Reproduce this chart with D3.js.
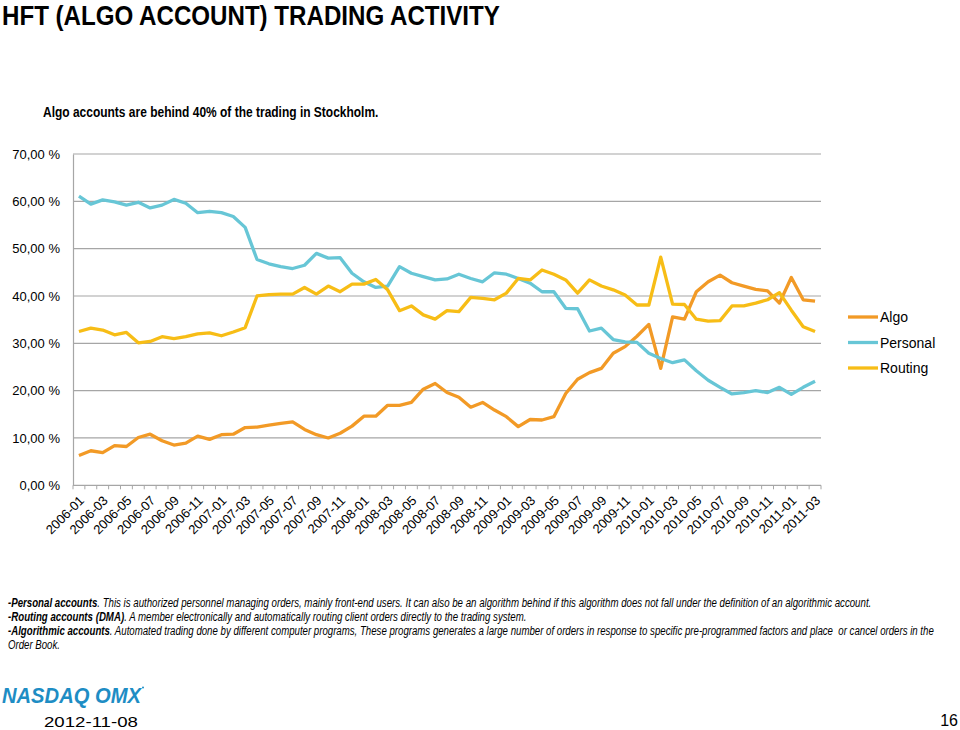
<!DOCTYPE html>
<html>
<head>
<meta charset="utf-8">
<script src="https://cdn.jsdelivr.net/npm/d3@7"></script>
<style>
  html, body { margin: 0; padding: 0; background: #fff; }
  svg { display: block; }
</style>
</head>
<body>
<svg id="chart" width="960" height="730"></svg>
<script>
const months = ["2006-01","2006-02","2006-03","2006-04","2006-05","2006-06","2006-07","2006-08","2006-09","2006-10","2006-11","2006-12",
"2007-01","2007-02","2007-03","2007-04","2007-05","2007-06","2007-07","2007-08","2007-09","2007-10","2007-11","2007-12",
"2008-01","2008-02","2008-03","2008-04","2008-05","2008-06","2008-07","2008-08","2008-09","2008-10","2008-11","2008-12",
"2009-01","2009-02","2009-03","2009-04","2009-05","2009-06","2009-07","2009-08","2009-09","2009-10","2009-11","2009-12",
"2010-01","2010-02","2010-03","2010-04","2010-05","2010-06","2010-07","2010-08","2010-09","2010-10","2010-11","2010-12",
"2011-01","2011-02","2011-03"];

const algo = [6.3,7.3,6.9,8.4,8.2,10.1,10.8,9.4,8.5,8.9,10.4,9.7,10.7,10.8,12.2,12.3,12.7,13.1,13.4,11.8,10.7,10.0,
11.0,12.5,14.6,14.6,16.9,16.9,17.5,20.3,21.5,19.6,18.6,16.5,17.5,15.9,14.5,12.4,13.9,13.8,14.5,19.4,22.4,
23.8,24.7,27.9,29.3,31.5,34.0,24.7,35.6,35.1,40.9,43.0,44.4,42.8,42.1,41.4,41.1,38.5,43.9,39.2,38.9];

const personal = [61.1,59.4,60.3,59.9,59.2,59.8,58.6,59.2,60.4,59.6,57.6,57.9,57.6,56.8,54.5,47.7,46.8,46.2,45.8,46.5,49.0,48.0,
48.1,44.8,43.0,41.8,42.1,46.2,44.8,44.1,43.4,43.6,44.6,43.7,43.0,44.9,44.6,43.7,42.7,40.9,40.9,37.4,37.3,
32.6,33.2,30.8,30.3,30.2,27.9,26.8,25.9,26.5,24.2,22.2,20.7,19.3,19.6,20.0,19.6,20.7,19.2,20.7,22.0];

const routing = [32.5,33.2,32.8,31.8,32.3,30.1,30.4,31.4,31.0,31.4,32.0,32.2,31.6,32.4,33.3,40.0,40.3,40.4,40.4,41.8,40.4,42.1,
40.9,42.5,42.5,43.5,41.3,36.9,37.9,36.0,35.1,36.9,36.7,39.7,39.5,39.2,40.6,43.7,43.4,45.5,44.6,43.4,40.6,
43.4,42.1,41.3,40.2,38.1,38.1,48.2,38.3,38.2,35.1,34.7,34.8,37.9,37.9,38.5,39.2,40.7,37.0,33.5,32.5];

const seriesNames = ["Algo","Personal","Routing"];
const seriesColors = ["#F29A26","#67C6D6","#F7BD16"];
const yTicks = [0,10,20,30,40,50,60,70];
const yTickLabels = ["0,00 %","10,00 %","20,00 %","30,00 %","40,00 %","50,00 %","60,00 %","70,00 %"];

const svg = d3.select("#chart");
const FONT = "'Liberation Sans Narrow','Liberation Sans',Arial,sans-serif";
const FONTW = "'Liberation Sans',Arial,sans-serif";

// helper: fit text to width via horizontal scale
function fitText(sel, x, width) {
  const node = sel.node();
  const w = node.getComputedTextLength();
  const s = width / w;
  const y = +sel.attr("y");
  sel.attr("x", 0).attr("y", 0).attr("transform", `translate(${x},${y}) scale(${s},1)`);
}

// Title
const title = svg.append("text").attr("x", 2).attr("y", 24.5)
  .style("font-family", FONT).style("font-weight", "bold").style("font-size", "27px").attr("fill", "#000")
  .text("HFT (ALGO ACCOUNT) TRADING ACTIVITY");
fitText(title, 2, 498);

const sub = svg.append("text").attr("x", 43).attr("y", 117)
  .style("font-family", FONT).style("font-weight", "bold").style("font-size", "14px").attr("fill", "#000")
  .text("Algo accounts are behind 40% of the trading in Stockholm.");
fitText(sub, 43, 336);

// Scales
const x = d3.scalePoint().domain(months).range([73, 821]).padding(0.5);
const y = d3.scaleLinear().domain([0, 70]).range([485.3, 154]);
const step = x.step();

// Gridlines
svg.append("g").selectAll("line").data(yTicks.filter(d => d > 0)).join("line")
  .attr("x1", 73).attr("x2", 821)
  .attr("y1", d => y(d)).attr("y2", d => y(d))
  .attr("stroke", "#a6a6a6").attr("stroke-width", 1.2);

// Y axis
const yAxis = d3.axisLeft(y).tickValues(yTicks).tickSize(0).tickPadding(13)
  .tickFormat((d, i) => yTickLabels[i]);
const gy = svg.append("g").attr("transform", "translate(73,0)").call(yAxis);
gy.select(".domain").attr("stroke", "#a6a6a6").attr("stroke-width", 1.2);
gy.selectAll("text").style("font-family", FONTW).style("font-size", "13px").attr("fill", "#000");

// X axis baseline and ticks at category boundaries
const boundaries = d3.range(months.length + 1).map(k => 73 + k * step);
svg.append("line").attr("x1", 73).attr("x2", 821).attr("y1", y(0)).attr("y2", y(0))
  .attr("stroke", "#a6a6a6").attr("stroke-width", 1.2);
svg.append("g").selectAll("line").data(boundaries).join("line")
  .attr("x1", d => d).attr("x2", d => d)
  .attr("y1", y(0)).attr("y2", y(0) + 4)
  .attr("stroke", "#a6a6a6").attr("stroke-width", 1);

// X labels every 2 months
svg.append("g").selectAll("text").data(months.filter((m, i) => i % 2 === 0)).join("text")
  .attr("transform", d => `translate(${x(d) + 6},${y(0) + 16}) rotate(-45)`)
  .attr("text-anchor", "end")
  .style("font-family", FONTW).style("font-size", "13px").attr("fill", "#000")
  .text(d => d);

// Lines
const allSeries = [algo, personal, routing];
const line = d3.line().x((d, i) => x(months[i])).y(d => y(d));
svg.append("g").selectAll("path").data(allSeries).join("path")
  .attr("d", d => line(d))
  .attr("fill", "none")
  .attr("stroke", (d, i) => seriesColors[i])
  .attr("stroke-width", 3.3)
  .attr("stroke-linejoin", "round");

// Legend
const lg = svg.append("g");
seriesNames.forEach((n, i) => {
  const ly = 317 + i * 25.5;
  lg.append("line").attr("x1", 848).attr("x2", 878).attr("y1", ly).attr("y2", ly)
    .attr("stroke", seriesColors[i]).attr("stroke-width", 3.3);
  lg.append("text").attr("x", 880).attr("y", ly + 5)
    .style("font-family", FONTW).style("font-size", "14px").attr("fill", "#000").text(n);
});

// Footnotes
const notes = [
  {y: 607, parts: [["-Personal accounts", true], [". This is authorized personnel managing orders, mainly front-end users. It can also be an algorithm behind if this algorithm does not fall under the definition of an algorithmic account.", false]], w: 864},
  {y: 621, parts: [["-Routing accounts (DMA)", true], [". A member electronically and automatically routing client orders directly to the trading system.", false]], w: 519},
  {y: 635, parts: [["-Algorithmic accounts", true], [". Automated trading done by different computer programs, These programs generates a large number of orders in response to specific pre-programmed factors and place  or cancel orders in the", false]], w: 927},
  {y: 649, parts: [["Order Book.", false]], w: 52}
];
notes.forEach(n => {
  const t = svg.append("text").attr("x", 8).attr("y", n.y)
    .style("font-family", FONT).style("font-style", "italic").style("font-size", "12.5px")
    .attr("fill", "#000").attr("xml:space", "preserve");
  n.parts.forEach(p => {
    t.append("tspan").style("font-weight", p[1] ? "bold" : "normal").text(p[0]);
  });
  fitText(t, 8, n.w);
});

// Logo
const logo = svg.append("text").attr("x", 2).attr("y", 703)
  .style("font-family", FONTW).style("font-weight", "900").style("font-style", "italic").style("font-size", "22px")
  .attr("fill", "#1E8DC4").text("NASDAQ OMX");
fitText(logo, 2, 139);
svg.append("circle").attr("cx", 143).attr("cy", 687.5).attr("r", 1).attr("fill", "#1E8DC4");

// Date and page number
const dt = svg.append("text").attr("x", 44).attr("y", 727)
  .style("font-family", FONTW).style("font-size", "15px").attr("fill", "#000").text("2012-11-08");
fitText(dt, 44, 94);
svg.append("text").attr("x", 958).attr("y", 726).attr("text-anchor", "end")
  .style("font-family", FONTW).style("font-size", "16px").attr("fill", "#000").text("16");
</script>
</body>
</html>
